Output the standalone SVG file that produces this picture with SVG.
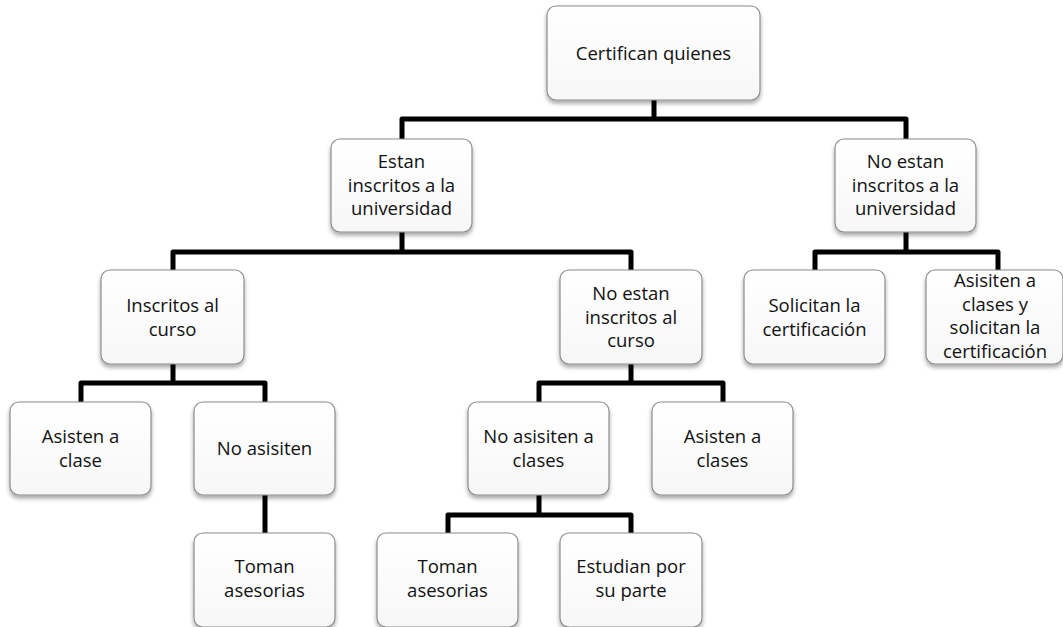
<svg xmlns="http://www.w3.org/2000/svg" width="1063" height="627" viewBox="0 0 1063 627">
  <defs>
    <linearGradient id="boxFill" x1="0" y1="0" x2="0" y2="1">
      <stop offset="0" stop-color="#ffffff"/>
      <stop offset="1" stop-color="#f7f7f7"/>
    </linearGradient>
    <filter id="shadow" x="-10%" y="-10%" width="120%" height="130%">
      <feDropShadow dx="0" dy="3" stdDeviation="2.2" flood-color="#000" flood-opacity="0.35"/>
    </filter>
  </defs>
  <style>
    .box { fill: url(#boxFill); stroke: #8c8c8c; stroke-width: 1.2; filter: url(#shadow); }
    .lbl { font-family: "Open Sans", "Liberation Sans", sans-serif; font-size: 18.5px; fill: #111; text-anchor: middle; }
    .link { fill: none; stroke: #000; stroke-width: 5; stroke-linejoin: round; }
  </style>
  <rect width="1063" height="627" fill="#ffffff"/>

  <!-- tree connectors -->
  <g id="connectors">
    <path class="link" d="M654 100 V119"/>
    <path class="link" d="M402 139 V119 H906 V139"/>

    <path class="link" d="M402 232 V252"/>
    <path class="link" d="M173 270 V252 H631 V270"/>

    <path class="link" d="M906 232 V252"/>
    <path class="link" d="M815 270 V252 H998 V270"/>

    <path class="link" d="M173 364 V383"/>
    <path class="link" d="M81 402 V383 H265 V402"/>

    <path class="link" d="M631 364 V383"/>
    <path class="link" d="M539 402 V383 H723 V402"/>

    <path class="link" d="M265 495 V533"/>

    <path class="link" d="M539 495 V515"/>
    <path class="link" d="M448 533 V515 H631 V533"/>
  </g>

  <g id="root">
    <rect class="box" x="547" y="6" width="213" height="94" rx="9"/>
    <text class="lbl" x="653.5" y="60">Certifican quienes</text>
  </g>

  <g id="inscritos-universidad">
    <rect class="box" x="331" y="139" width="141" height="93" rx="9"/>
    <text class="lbl" x="401.5" y="168">Estan</text>
    <text class="lbl" x="401.5" y="191.5">inscritos a la</text>
    <text class="lbl" x="401.5" y="215">universidad</text>
  </g>

  <g id="no-inscritos-universidad">
    <rect class="box" x="835" y="139" width="141" height="93" rx="9"/>
    <text class="lbl" x="905.5" y="168">No estan</text>
    <text class="lbl" x="905.5" y="191.5">inscritos a la</text>
    <text class="lbl" x="905.5" y="215">universidad</text>
  </g>

  <g id="inscritos-curso">
    <rect class="box" x="101" y="270" width="143" height="94" rx="9"/>
    <text class="lbl" x="172.5" y="312">Inscritos al</text>
    <text class="lbl" x="172.5" y="335.5">curso</text>
  </g>

  <g id="no-inscritos-curso">
    <rect class="box" x="560" y="270" width="142" height="94" rx="9"/>
    <text class="lbl" x="631" y="300">No estan</text>
    <text class="lbl" x="631" y="323.5">inscritos al</text>
    <text class="lbl" x="631" y="347">curso</text>
  </g>

  <g id="solicitan">
    <rect class="box" x="744" y="270" width="141" height="94" rx="9"/>
    <text class="lbl" x="814.5" y="312">Solicitan la</text>
    <text class="lbl" x="814.5" y="335.5">certificación</text>
  </g>

  <g id="asisiten-solicitan">
    <rect class="box" x="926" y="270" width="137" height="94" rx="9"/>
    <text class="lbl" x="995" y="287">Asisiten a</text>
    <text class="lbl" x="995" y="310.5">clases y</text>
    <text class="lbl" x="995" y="334">solicitan la</text>
    <text class="lbl" x="995" y="357.5">certificación</text>
  </g>

  <g id="asisten-clase">
    <rect class="box" x="10" y="402" width="141" height="93" rx="9"/>
    <text class="lbl" x="80.5" y="443">Asisten a</text>
    <text class="lbl" x="80.5" y="466.5">clase</text>
  </g>

  <g id="no-asisiten">
    <rect class="box" x="194" y="402" width="141" height="93" rx="9"/>
    <text class="lbl" x="264.5" y="455">No asisiten</text>
  </g>

  <g id="no-asisiten-clases">
    <rect class="box" x="468" y="402" width="141" height="93" rx="9"/>
    <text class="lbl" x="538.5" y="443">No asisiten a</text>
    <text class="lbl" x="538.5" y="466.5">clases</text>
  </g>

  <g id="asisten-clases">
    <rect class="box" x="652" y="402" width="141" height="93" rx="9"/>
    <text class="lbl" x="722.5" y="443">Asisten a</text>
    <text class="lbl" x="722.5" y="466.5">clases</text>
  </g>

  <g id="toman-asesorias-1">
    <rect class="box" x="194" y="533" width="141" height="94" rx="9"/>
    <text class="lbl" x="264.5" y="573">Toman</text>
    <text class="lbl" x="264.5" y="596.5">asesorias</text>
  </g>

  <g id="toman-asesorias-2">
    <rect class="box" x="377" y="533" width="141" height="94" rx="9"/>
    <text class="lbl" x="447.5" y="573">Toman</text>
    <text class="lbl" x="447.5" y="596.5">asesorias</text>
  </g>

  <g id="estudian">
    <rect class="box" x="560" y="533" width="142" height="94" rx="9"/>
    <text class="lbl" x="631" y="573">Estudian por</text>
    <text class="lbl" x="631" y="596.5">su parte</text>
  </g>
</svg>
